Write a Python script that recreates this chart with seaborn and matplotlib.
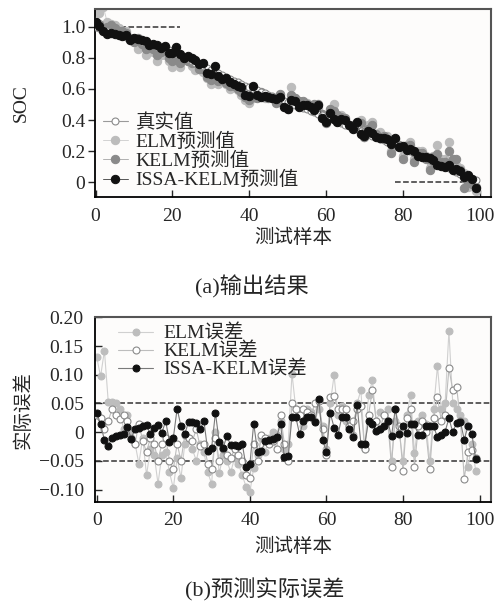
import numpy as np
import pandas as pd
import matplotlib
matplotlib.use("Agg")
import matplotlib.pyplot as plt
import seaborn as sns

# 测试样本编号
samples = list(range(100))

# (a) 输出结果
soc_true = [1.000, 0.992, 0.984, 0.976, 0.968, 0.960, 0.952, 0.944, 0.936, 0.928,
            0.920, 0.912, 0.904, 0.896, 0.888, 0.880, 0.872, 0.864, 0.856, 0.848,
            0.840, 0.828, 0.817, 0.805, 0.793, 0.782, 0.770, 0.758, 0.747, 0.735,
            0.723, 0.712, 0.700, 0.688, 0.677, 0.665, 0.653, 0.642, 0.630, 0.620,
            0.611, 0.601, 0.592, 0.582, 0.573, 0.563, 0.554, 0.544, 0.535, 0.525,
            0.516, 0.506, 0.497, 0.487, 0.478, 0.468, 0.459, 0.449, 0.440, 0.430,
            0.420, 0.410, 0.400, 0.390, 0.380, 0.370, 0.360, 0.350, 0.340, 0.330,
            0.320, 0.310, 0.300, 0.290, 0.280, 0.270, 0.260, 0.250, 0.240, 0.230,
            0.220, 0.209, 0.198, 0.187, 0.176, 0.165, 0.154, 0.143, 0.132, 0.121,
            0.110, 0.099, 0.088, 0.077, 0.066, 0.055, 0.044, 0.033, 0.022, 0.011]

soc_elm = [1.13, 1.09, 1.13, 1.03, 1.02, 1.01, 0.99, 0.95, 0.97, 0.93,
           0.90, 0.86, 0.89, 0.82, 0.86, 0.84, 0.78, 0.82, 0.82, 0.78,
           0.74, 0.78, 0.74, 0.79, 0.78, 0.75, 0.72, 0.74, 0.71, 0.67,
           0.63, 0.71, 0.63, 0.65, 0.63, 0.60, 0.61, 0.59, 0.56, 0.53,
           0.51, 0.54, 0.55, 0.57, 0.54, 0.55, 0.55, 0.54, 0.56, 0.50,
           0.50, 0.61, 0.54, 0.52, 0.49, 0.51, 0.49, 0.47, 0.48, 0.44,
           0.39, 0.46, 0.50, 0.42, 0.43, 0.39, 0.37, 0.35, 0.39, 0.40,
           0.29, 0.37, 0.39, 0.31, 0.32, 0.30, 0.30, 0.20, 0.26, 0.23,
           0.17, 0.24, 0.26, 0.15, 0.20, 0.20, 0.17, 0.09, 0.17, 0.24,
           0.15, 0.15, 0.26, 0.13, 0.11, 0.09, 0.06, -0.03, 0.00, -0.06]

soc_kelm = [1.03, 1.02, 0.99, 1.00, 1.01, 0.99, 0.97, 0.97, 0.96, 0.92,
            0.90, 0.93, 0.89, 0.86, 0.88, 0.86, 0.82, 0.84, 0.85, 0.80,
            0.78, 0.81, 0.77, 0.80, 0.78, 0.77, 0.78, 0.73, 0.73, 0.68,
            0.66, 0.70, 0.65, 0.66, 0.64, 0.62, 0.62, 0.60, 0.58, 0.55,
            0.53, 0.58, 0.54, 0.58, 0.56, 0.54, 0.54, 0.51, 0.57, 0.51,
            0.47, 0.56, 0.54, 0.52, 0.52, 0.50, 0.49, 0.50, 0.50, 0.44,
            0.38, 0.47, 0.46, 0.43, 0.42, 0.41, 0.37, 0.37, 0.38, 0.38,
            0.29, 0.34, 0.37, 0.31, 0.29, 0.30, 0.28, 0.19, 0.28, 0.24,
            0.15, 0.23, 0.24, 0.13, 0.19, 0.19, 0.15, 0.08, 0.16, 0.18,
            0.13, 0.13, 0.20, 0.15, 0.15, 0.08, -0.04, 0.00, -0.01, -0.03]

soc_issa = [1.034, 1.006, 0.970, 0.952, 0.958, 0.953, 0.947, 0.940, 0.945, 0.916,
            0.926, 0.920, 0.914, 0.908, 0.884, 0.888, 0.885, 0.863, 0.875, 0.831,
            0.830, 0.869, 0.827, 0.802, 0.811, 0.799, 0.786, 0.763, 0.766, 0.702,
            0.695, 0.746, 0.682, 0.661, 0.670, 0.642, 0.631, 0.617, 0.610, 0.560,
            0.555, 0.616, 0.558, 0.549, 0.557, 0.549, 0.542, 0.536, 0.550, 0.481,
            0.474, 0.532, 0.523, 0.483, 0.498, 0.495, 0.486, 0.467, 0.497, 0.416,
            0.386, 0.443, 0.408, 0.385, 0.406, 0.397, 0.365, 0.342, 0.388, 0.310,
            0.299, 0.329, 0.315, 0.292, 0.286, 0.281, 0.279, 0.243, 0.281, 0.227,
            0.230, 0.207, 0.212, 0.201, 0.171, 0.160, 0.164, 0.153, 0.142, 0.112,
            0.105, 0.100, 0.112, 0.077, 0.082, 0.073, 0.031, 0.044, 0.018, -0.036]

# (b) 预测实际误差
err_elm = [0.130, 0.097, 0.142, 0.053, 0.053, 0.050, 0.040, 0.005, 0.030, 0.003,
           -0.020, -0.055, -0.010, -0.075, -0.030, -0.040, -0.090, -0.040, -0.035, -0.070,
           -0.098, -0.045, -0.080, -0.020, -0.010, -0.030, -0.050, -0.020, -0.035, -0.070,
           -0.090, 0.000, -0.072, -0.040, -0.050, -0.070, -0.045, -0.055, -0.075, -0.095,
           -0.105, -0.062, -0.040, -0.010, -0.034, -0.010, 0.000, -0.005, 0.020, -0.030,
           -0.020, 0.102, 0.040, 0.030, 0.010, 0.040, 0.035, 0.020, 0.040, 0.010,
           -0.030, 0.050, 0.099, 0.030, 0.045, 0.020, 0.010, -0.005, 0.050, 0.073,
           -0.030, 0.064, 0.090, 0.020, 0.035, 0.030, 0.040, -0.050, 0.020, 0.000,
           -0.050, 0.030, 0.065, -0.037, 0.020, 0.030, 0.015, -0.050, 0.040, 0.115,
           0.040, 0.050, 0.176, 0.050, 0.040, 0.030, 0.020, -0.060, -0.020, -0.068]

err_kelm = [0.030, 0.025, 0.005, 0.020, 0.040, 0.030, 0.022, 0.030, 0.020, -0.010,
            -0.020, 0.015, -0.015, -0.035, -0.010, -0.020, -0.050, -0.020, -0.010, -0.050,
            -0.065, -0.020, -0.050, -0.005, -0.010, -0.015, 0.005, -0.025, -0.020, -0.055,
            -0.065, -0.010, -0.050, -0.030, -0.040, -0.045, -0.030, -0.040, -0.050, -0.075,
            -0.080, -0.020, -0.050, -0.005, -0.010, -0.020, -0.015, -0.030, 0.030, -0.020,
            -0.050, 0.050, 0.040, 0.030, 0.040, 0.035, 0.030, 0.050, 0.055, 0.005,
            -0.040, 0.061, 0.063, 0.040, 0.040, 0.040, 0.010, 0.020, 0.040, 0.045,
            -0.030, 0.030, 0.073, 0.020, 0.005, 0.030, 0.020, -0.060, 0.040, 0.010,
            -0.067, 0.025, 0.040, -0.060, 0.010, 0.020, 0.000, -0.065, 0.025, 0.061,
            0.020, 0.030, 0.111, 0.073, 0.079, 0.020, -0.081, -0.035, -0.031, -0.045]

err_issa = [0.034, 0.014, -0.014, -0.024, -0.010, -0.007, -0.005, -0.004, 0.009, -0.012,
            0.006, 0.008, 0.010, 0.012, -0.004, 0.008, 0.013, -0.001, 0.019, -0.017,
            -0.010, 0.041, 0.010, -0.003, 0.018, 0.017, 0.016, 0.005, 0.019, -0.033,
            -0.028, 0.034, -0.018, -0.027, -0.007, -0.023, -0.022, -0.025, -0.020, -0.060,
            -0.056, 0.015, -0.034, -0.033, -0.016, -0.014, -0.012, -0.008, 0.015, -0.044,
            -0.042, 0.026, 0.026, -0.004, 0.020, 0.027, 0.027, 0.018, 0.057, -0.014,
            -0.034, 0.033, 0.008, -0.005, 0.026, 0.027, 0.005, -0.008, 0.048, -0.020,
            -0.021, 0.019, 0.015, 0.002, 0.006, 0.011, 0.019, -0.007, 0.041, -0.003,
            0.010, -0.002, 0.014, 0.014, -0.005, -0.005, 0.010, 0.010, 0.010, -0.009,
            -0.005, 0.001, 0.024, 0.000, 0.016, 0.018, -0.013, 0.011, -0.004, -0.047]

xticks = [0, 20, 40, 60, 80, 100]
soc_ticks = [0, 0.2, 0.4, 0.6, 0.8, 1.0]
soc_ticklabels = ['0', '0.2', '0.4', '0.6', '0.8', '1.0']
err_ticks = [-0.10, -0.05, 0, 0.05, 0.10, 0.15, 0.20]
err_ticklabels = ['\u22120.10', '\u22120.05', '0', '0.05', '0.10', '0.15', '0.20']

sns.set_theme(style='ticks')
plt.rcParams['font.family'] = ['Liberation Serif', 'Noto Sans CJK SC']
plt.rcParams['font.size'] = 14

df_a = pd.DataFrame({'x': samples, 'true': soc_true, 'elm': soc_elm,
                     'kelm': soc_kelm, 'issa': soc_issa})
df_b = pd.DataFrame({'x': samples, 'elm': err_elm, 'kelm': err_kelm, 'issa': err_issa})

fig = plt.figure(figsize=(4.94, 6.05), dpi=100)
ax1 = fig.add_axes([0.192, 0.674, 0.802, 0.311])
ax2 = fig.add_axes([0.192, 0.170, 0.802, 0.306])

# ---- (a) 输出结果
sns.lineplot(data=df_a, x='x', y='elm', ax=ax1, color='#d2d2d2', lw=0.7,
             marker='o', markersize=6, markerfacecolor='#bcbcbc',
             markeredgecolor='#bcbcbc', label='ELM预测值', zorder=2)
sns.lineplot(data=df_a, x='x', y='kelm', ax=ax1, color='#b0b0b0', lw=0.7,
             marker='o', markersize=6, markerfacecolor='#8a8a8a',
             markeredgecolor='#8a8a8a', label='KELM预测值', zorder=3)
sns.lineplot(data=df_a, x='x', y='true', ax=ax1, color='#9a9a9a', lw=0.8,
             marker='o', markersize=5, markerfacecolor='white',
             markeredgecolor='#8a8a8a', markeredgewidth=0.8, label='真实值', zorder=4)
sns.lineplot(data=df_a, x='x', y='issa', ax=ax1, color='#555555', lw=0.7,
             marker='o', markersize=6, markerfacecolor='#111111',
             markeredgecolor='#111111', label='ISSA-KELM预测值', zorder=5)
ax1.plot([0, 22], [1.0, 1.0], ls='--', color='#333333', lw=1.1, zorder=1)
ax1.plot([78, 100], [0, 0], ls='--', color='#333333', lw=1.1, zorder=1)

ax1.set_xlim(-0.2, 103)
ax1.set_ylim(-0.097, 1.114)
ax1.set_xticks(xticks)
ax1.set_yticks(soc_ticks, soc_ticklabels)
ax1.tick_params(axis='x', direction='in', length=5, width=1, pad=8, labelsize=14)
ax1.tick_params(axis='y', direction='out', length=5, width=1, pad=2, labelsize=14)
ax1.set_xlabel('测试样本', fontsize=14)
ax1.set_ylabel('SOC', fontsize=14)
ax1.xaxis.set_label_coords(0.5, -0.17)
ax1.yaxis.set_label_coords(-0.165, 0.5)
h, l = ax1.get_legend_handles_labels()
order = [2, 0, 1, 3]
ax1.legend([h[i] for i in order], [l[i] for i in order], loc='lower left',
           bbox_to_anchor=(-0.01, -0.02), frameon=False, fontsize=14,
           handlelength=1.3, handletextpad=0.4, labelspacing=0.05, borderaxespad=0.2)

# ---- (b) 预测实际误差
ax2.axhline(0.05, ls='--', color='#333333', lw=1.1, zorder=1)
ax2.axhline(-0.05, ls='--', color='#333333', lw=1.1, zorder=1)
sns.lineplot(data=df_b, x='x', y='elm', ax=ax2, color='#d0d0d0', lw=0.8,
             marker='o', markersize=5, markerfacecolor='#bdbdbd',
             markeredgecolor='#bdbdbd', label='ELM误差', zorder=2)
sns.lineplot(data=df_b, x='x', y='kelm', ax=ax2, color='#bdbdbd', lw=0.8,
             marker='o', markersize=5, markerfacecolor='white',
             markeredgecolor='#8a8a8a', markeredgewidth=0.8, label='KELM误差', zorder=3)
sns.lineplot(data=df_b, x='x', y='issa', ax=ax2, color='#7a7a7a', lw=0.8,
             marker='o', markersize=5, markerfacecolor='#111111',
             markeredgecolor='#111111', label='ISSA-KELM误差', zorder=4)

ax2.set_xlim(-0.5, 103)
ax2.set_ylim(-0.122, 0.2005)
ax2.set_xticks(xticks)
ax2.set_yticks(err_ticks, err_ticklabels)
ax2.tick_params(axis='both', direction='in', length=5, width=1, labelsize=14)
ax2.tick_params(axis='x', pad=7)
ax2.tick_params(axis='y', pad=8)
ax2.set_xlabel('测试样本', fontsize=14)
ax2.set_ylabel('实际误差', fontsize=14)
ax2.xaxis.set_label_coords(0.5, -0.19)
ax2.yaxis.set_label_coords(-0.158, 0.5)
ax2.legend(loc='upper left', bbox_to_anchor=(0.03, 1.02), frameon=False, fontsize=14,
           handlelength=1.8, handletextpad=0.5, labelspacing=0.0, borderaxespad=0.2)

for ax in (ax1, ax2):
    ax.set_facecolor('#fdfcfb')
    for side in ('left', 'bottom'):
        ax.spines[side].set_color('black')
        ax.spines[side].set_linewidth(1.3)
    for side in ('top', 'right'):
        ax.spines[side].set_color('#555555')
        ax.spines[side].set_linewidth(1.5)

fig.text(0.51, 0.526, '(a)输出结果', ha='center', va='center', fontsize=16)
fig.text(0.536, 0.025, '(b)预测实际误差', ha='center', va='center', fontsize=16)

fig.savefig('out.png', dpi=100)
